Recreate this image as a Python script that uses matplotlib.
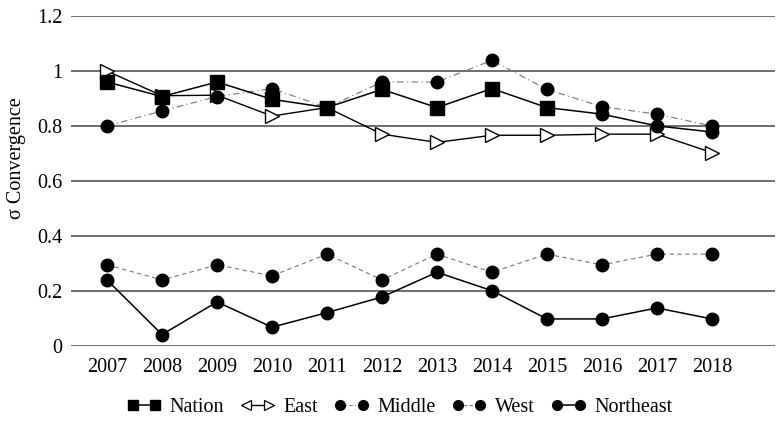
import numpy as np
import matplotlib
matplotlib.use("Agg")
import matplotlib.pyplot as plt
from matplotlib.lines import Line2D

plt.rcParams['font.family'] = ['Liberation Serif', 'DejaVu Serif']
plt.rcParams['font.size'] = 14.5

years = ['2007', '2008', '2009', '2010', '2011', '2012',
         '2013', '2014', '2015', '2016', '2017', '2018']
nation = [0.96, 0.907, 0.96, 0.897, 0.867, 0.933, 0.867, 0.936, 0.867, 0.843, 0.80, 0.778]
east = [1.0, 0.91, 0.912, 0.836, 0.867, 0.77, 0.74, 0.766, 0.766, 0.77, 0.77, 0.703]
middle = [0.80, 0.855, 0.907, 0.936, 0.867, 0.96, 0.96, 1.039, 0.933, 0.87, 0.843, 0.80]
west = [0.294, 0.239, 0.294, 0.254, 0.333, 0.239, 0.333, 0.267, 0.333, 0.294, 0.333, 0.333]
northeast = [0.239, 0.04, 0.159, 0.067, 0.12, 0.177, 0.267, 0.2, 0.097, 0.097, 0.137, 0.097]


class ArrowHandler:
    # legend symbol for East: <---->
    def legend_artist(self, legend, orig_handle, fontsize, handlebox):
        x0, y0 = handlebox.xdescent, handlebox.ydescent
        w, h = handlebox.width, handlebox.height
        ym = y0 + h / 2
        pad = 0.3 * fontsize
        arts = [Line2D([x0 + pad, x0 + w - pad], [ym, ym], color='black', lw=1),
                Line2D([x0 + pad], [ym], marker='<', ms=7, mfc='white', mec='black', mew=0.9),
                Line2D([x0 + w - pad], [ym], marker='>', ms=7, mfc='white', mec='black', mew=0.9)]
        for a in arts:
            a.set_transform(handlebox.get_transform())
            handlebox.add_artist(a)
        return arts[0]


fig = plt.figure(figsize=(7.76, 4.24), dpi=100)
ax = fig.add_axes([0.0915, 0.185, 0.907, 0.777])

x = np.arange(len(years))

for v in np.arange(0, 1.21, 0.2):
    ax.axhline(v, color='#555555', lw=1.2, zorder=0)

ax.plot(x, east, color='black', lw=1, marker='>', ms=10, mfc='white', mec='black', mew=1, zorder=2)
ax.plot(x, middle, color='#777777', lw=0.8, linestyle=(0, (6, 3, 1, 3)),
        marker='o', ms=9, mfc='black', mec='black', zorder=3)
ax.plot(x, nation, color='black', lw=1.1, marker='s', ms=9.5, mfc='black', mec='black',
        markevery=list(range(9)), zorder=4)
ax.plot(x[9:], nation[9:], linestyle='none', marker='o', ms=9, color='black', zorder=4)
ax.plot(x, west, color='#777777', lw=0.8, linestyle=(0, (4, 3)),
        marker='o', ms=9, mfc='black', mec='black', zorder=3)
ax.plot(x, northeast, color='black', lw=1.1, marker='o', ms=9, mfc='black', mec='black', zorder=3)

ax.set_xlim(-0.655, 12.145)
ax.set_ylim(0, 1.2)
ax.set_xticks(x)
ax.set_xticklabels(years)
ax.set_yticks([0, 0.2, 0.4, 0.6, 0.8, 1.0, 1.2])
ax.set_yticklabels(['0', '0.2', '0.4', '0.6', '0.8', '1', '1.2'])
ax.tick_params(axis='both', length=0)
ax.tick_params(axis='y', pad=6)
ax.tick_params(axis='x', pad=9)
for s in ax.spines.values():
    s.set_visible(False)

ax.set_ylabel('σ Convergence')
ax.yaxis.set_label_coords(-0.064, 0.57)

h_nation = Line2D([], [], color='black', lw=1.1, marker='s', ms=7.5)
h_east = object()
h_middle = Line2D([], [], color='#777777', lw=0.8, linestyle=(0, (3, 2, 1, 2)), marker='o', ms=7, mfc='black', mec='black')
h_west = Line2D([], [], color='#777777', lw=0.8, linestyle=(0, (3, 2)), marker='o', ms=7, mfc='black', mec='black')
h_ne = Line2D([], [], color='black', lw=1.1, marker='o', ms=7)
fig.legend([h_nation, h_east, h_middle, h_west, h_ne],
           ['Nation', 'East', 'Middle', 'West', 'Northeast'],
           handler_map={h_east: ArrowHandler()},
           loc='center', bbox_to_anchor=(0.515, 0.038), ncol=5, frameon=False,
           handlelength=1.7, handletextpad=0.45, columnspacing=0.8, numpoints=2)

fig.savefig('out.png', dpi=100)
